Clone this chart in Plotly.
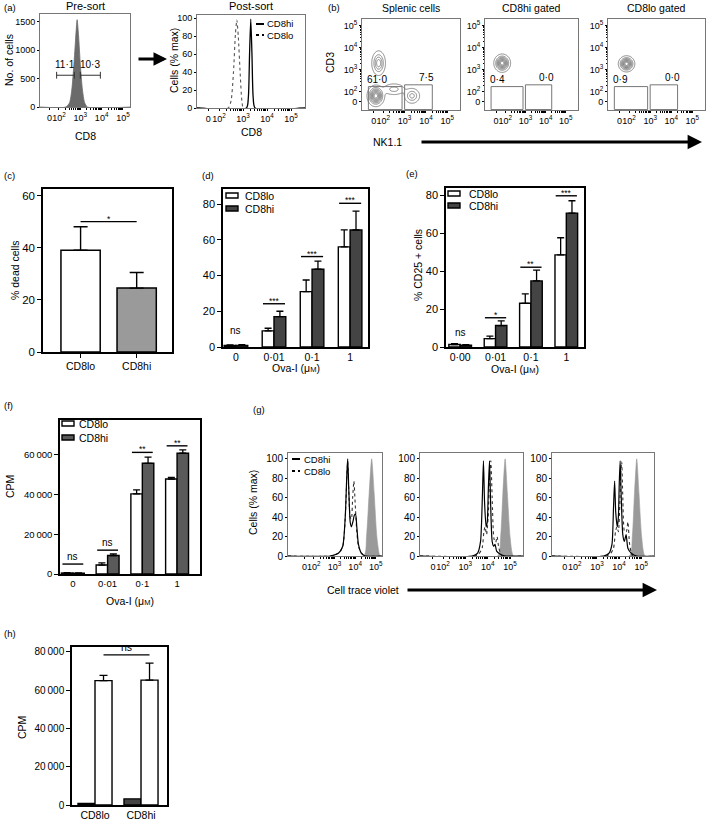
import numpy as np
import plotly.graph_objects as go

W, H = 709, 822
FONT = "Liberation Sans, Arial, Helvetica, sans-serif"

# ===================== DATA =====================
flow_tick_pos = [1.55, 2, 3, 4, 5]
flow_tick_text = ["0", "10<sup>2</sup>", "10<sup>3</sup>", "10<sup>4</sup>", "10<sup>5</sup>"]

# (a) pre-sort CD8 histogram (decade units, counts)
pre_x = [1.1, 2.33, 2.5, 2.6, 2.7, 2.78, 2.85, 2.92, 3.0, 3.1, 3.2, 3.33, 5.35]
pre_y = [0, 0, 80, 300, 750, 1200, 1540, 1250, 750, 300, 80, 0, 0]
pre_gates = [[1.89, 2.72], [3.0, 3.94]]
pre_gate_y = 560
pre_gate_labels = ["11·1", "10·3"]

# (a) post-sort
post_lo_x = [1.08, 2.38, 2.5, 2.6, 2.68, 2.74, 2.8, 2.88, 2.95, 3.02, 5.58]
post_lo_y = [0, 0, 8, 40, 82, 98, 80, 38, 8, 0, 0]
post_hi_x = [1.08, 3.14, 3.22, 3.27, 3.32, 3.37, 3.42, 3.5, 5.58]
post_hi_y = [0, 0, 12, 60, 99, 60, 12, 0, 0]

# (b) contour populations: centre x, centre y, spread x, spread y, weight
splenic_cx = [1.78, 1.65, 2.5, 3.35]
splenic_cy = [3.3, 1.82, 2.12, 1.82]
splenic_sx = [0.15, 0.17, 0.28, 0.18]
splenic_sy = [0.26, 0.2, 0.14, 0.17]
splenic_w = [0.8, 1.6, 0.35, 0.55]
cd8hi_cx, cd8hi_cy, cd8hi_sx, cd8hi_sy, cd8hi_w = [1.85], [3.3], [0.17], [0.17], [1.0]
cd8lo_cx, cd8lo_cy, cd8lo_sx, cd8lo_sy, cd8lo_w = [1.88], [3.27], [0.16], [0.15], [1.0]
b_gates = [[1.3, 2.88, 1.2, 2.24], [3.0, 4.3, 1.2, 2.32]]
b_titles = ["Splenic cells", "CD8hi gated", "CD8lo gated"]
b_gate_labels = [["61·0", "7·5"], ["0·4", "0·0"], ["0·9", "0·0"]]

# (c)
c_cats = ["CD8lo", "CD8hi"]
c_mean = [39, 24.5]
c_top = [48, 30.5]
c_sig_y = 50
c_sig = "*"

# (d)
d_cats = ["0", "0·01", "0·1", "1"]
d_lo = [0.8, 9, 31, 56]
d_lo_top = [1.2, 10.5, 37.5, 65.5]
d_hi = [0.9, 17, 43.5, 65.5]
d_hi_top = [1.3, 20, 48, 76]
d_sig = ["ns", "***", "***", "***"]
d_sig_y = [5, 24.2, 50.6, 80.4]
d_sig_line = [False, True, True, True]

# (e)
e_cats = ["0·00", "0·01", "0·1", "1"]
e_lo = [1.3, 4.4, 23, 48.5]
e_lo_top = [1.7, 5.7, 28, 57.5]
e_hi = [0.9, 11.3, 34.8, 70.5]
e_hi_top = [1.2, 13.8, 40.5, 77]
e_sig = ["ns", "*", "**", "***"]
e_sig_y = [3.5, 15.4, 42, 79.6]
e_sig_line = [False, True, True, True]

# (f)
f_cats = ["0", "0·01", "0·1", "1"]
f_lo = [500, 4500, 40300, 47800]
f_lo_top = [700, 5600, 42300, 48600]
f_hi = [400, 9300, 55700, 60800]
f_hi_top = [600, 10100, 58800, 62500]
f_sig = ["ns", "ns", "**", "**"]
f_sig_y = [5000, 12000, 61200, 64500]
f_sig_line = [True, True, True, True]

# (g) cell trace violet histograms (decade units, % max)
g1_gray_x = [0.75, 4.42, 4.55, 4.68, 4.8, 4.92, 5.05, 5.2, 5.3]
g1_gray_y = [0, 0, 20, 65, 100, 65, 20, 0, 0]
g1_hi_x = [0.75, 2.8, 3.2, 3.4, 3.52, 3.6, 3.64, 3.69, 3.76, 3.82, 3.9, 3.96, 4.02, 4.08, 4.16, 4.3, 4.5, 5.3]
g1_hi_y = [0, 0, 3, 10, 40, 85, 100, 70, 35, 30, 36, 42, 43, 30, 12, 3, 0, 0]
g1_lo_x = [0.75, 2.8, 3.2, 3.4, 3.52, 3.6, 3.64, 3.69, 3.76, 3.82, 3.88, 3.94, 4.0, 4.08, 4.16, 4.3, 4.5, 5.3]
g1_lo_y = [0, 0, 3, 10, 38, 82, 97, 68, 40, 38, 60, 77, 55, 25, 10, 3, 0, 0]

g2_gray_x = [0.97, 4.45, 4.58, 4.68, 4.78, 4.88, 5.0, 5.15, 5.58]
g2_gray_y = [0, 0, 20, 65, 100, 65, 20, 0, 0]
g2_hi_x = [0.97, 3.3, 3.55, 3.68, 3.76, 3.81, 3.86, 3.93, 3.98, 4.03, 4.08, 4.13, 4.2, 4.27, 4.33, 4.4, 4.55, 4.8, 5.58]
g2_hi_y = [0, 0, 3, 15, 60, 98, 55, 30, 35, 70, 98, 55, 15, 10, 12, 5, 2, 0, 0]
g2_lo_x = [0.97, 3.4, 3.6, 3.75, 3.83, 3.88, 3.95, 4.02, 4.08, 4.14, 4.2, 4.28, 4.36, 4.42, 4.5, 4.65, 5.58]
g2_lo_y = [0, 0, 2, 8, 25, 30, 22, 40, 80, 98, 60, 18, 14, 20, 8, 0, 0]

g3_gray_x = [0.97, 4.47, 4.6, 4.7, 4.8, 4.9, 5.02, 5.17, 5.58]
g3_gray_y = [0, 0, 20, 65, 100, 65, 20, 0, 0]
g3_hi_x = [0.97, 3.3, 3.55, 3.68, 3.75, 3.8, 3.85, 3.92, 3.97, 4.01, 4.05, 4.1, 4.17, 4.24, 4.32, 4.4, 4.55, 4.8, 5.58]
g3_hi_y = [0, 0, 3, 12, 50, 77, 45, 30, 40, 75, 98, 60, 22, 15, 22, 8, 3, 0, 0]
g3_lo_x = [0.97, 3.4, 3.6, 3.75, 3.84, 3.9, 3.97, 4.03, 4.08, 4.12, 4.17, 4.25, 4.33, 4.4, 4.48, 4.62, 5.58]
g3_lo_y = [0, 0, 2, 8, 25, 30, 25, 50, 85, 97, 60, 25, 25, 35, 12, 0, 0]

# (h)
h_cats = ["CD8lo", "CD8hi"]
h_dark = [800, 3200]
h_white = [65000, 65300]
h_white_top = [67800, 74200]
h_sig = "ns"
h_sig_y = 78500

# ===================== LAYOUT HELPERS =====================
def xd(l, r):
    return [l / W, r / W]


def yd(t, b):
    return [1 - b / H, 1 - t / H]


boxes = {
    1: (40, 130, 14, 107),    # a pre
    2: (197, 305, 15, 108),   # a post
    3: (362, 460, 19, 110),   # b1
    4: (485, 578, 19, 110),   # b2
    5: (608, 705, 19, 110),   # b3
    6: (43, 172, 189, 352),   # c
    7: (223, 368, 189, 347),  # d
    8: (446, 584, 188, 347),  # e
    9: (60, 200, 420, 574),   # f
    10: (288, 382, 453, 556), # g1
    11: (420, 523, 453, 556), # g2
    12: (552, 654, 453, 556), # g3
    13: (72, 167, 647, 805),  # h
}


def sfx(i):
    return "" if i == 1 else str(i)


minor_vals = [float(np.log10(k * 10 ** n)) for n in (2, 3, 4) for k in range(2, 10)]


def tf(size):
    return dict(size=size, family=FONT, color="black")


COMMON = dict(automargin=False, showgrid=False, zeroline=False, tickangle=0, tickmode="array")


def flow_axis(rng, fs=9):
    return dict(COMMON, range=rng, tickvals=flow_tick_pos, ticktext=flow_tick_text,
                ticks="outside", ticklen=2, tickwidth=1, tickcolor="black",
                showline=True, linecolor="#777", linewidth=1, mirror=True, tickfont=tf(fs),
                minor=dict(tickmode="array", tickvals=minor_vals, ticklen=1.5,
                           ticks="outside", tickcolor="black"))


def lin_axis(rng, vals, fs=9):
    return dict(COMMON, range=rng, tickvals=vals,
                ticks="outside", ticklen=2, tickwidth=1, tickcolor="black",
                showline=True, linecolor="#777", linewidth=1, mirror=True, tickfont=tf(fs))


def bar_axis(rng, vals, text=None, ticks="outside", fs=10):
    d = dict(COMMON, range=rng, tickvals=vals,
             ticks=ticks, ticklen=4, tickwidth=1.4, tickcolor="black",
             showline=True, linecolor="black", linewidth=1.5, mirror=True, tickfont=tf(fs))
    if text is not None:
        d["ticktext"] = text
    return d


THIN = "\u2009"
axes = {}
axes[1] = (flow_axis([1.11, 5.33]), lin_axis([0, 1640], [0, 500, 1000, 1500]))
axes[2] = (flow_axis([1.08, 5.58]), lin_axis([0, 103.5], [0, 20, 40, 60, 80, 100]))
for i in (3, 4, 5):
    axes[i] = (flow_axis([1.0, 5.6]), flow_axis([1.18, 5.3]))
axes[6] = (bar_axis([-0.67, 1.63], [0, 1], c_cats, fs=10.5), bar_axis([0, 62.5], [0, 20, 40, 60], fs=11.5))
axes[7] = (bar_axis([-0.34, 3.47], list(range(4)), d_cats, ticks="", fs=10.5),
           bar_axis([0, 88.4], [0, 20, 40, 60, 80], fs=11))
axes[8] = (bar_axis([-0.4, 3.5], list(range(4)), e_cats, ticks="", fs=10.5),
           bar_axis([0, 83.7], [0, 20, 40, 60, 80], fs=11))
axes[9] = (bar_axis([-0.37, 3.66], list(range(4)), f_cats, ticks="", fs=9.5),
           bar_axis([0, 77500], [0, 20000, 40000, 60000],
                    ["0", "20" + THIN + "000", "40" + THIN + "000", "60" + THIN + "000"], fs=9.5))
axes[10] = (flow_axis([0.75, 5.3]), lin_axis([0, 106], [0, 20, 40, 60, 80, 100], fs=10))
axes[11] = (flow_axis([0.97, 5.58]), lin_axis([0, 106], [0, 20, 40, 60, 80, 100], fs=10))
axes[12] = (flow_axis([0.97, 5.58]), lin_axis([0, 106], [0, 20, 40, 60, 80, 100], fs=10))
axes[13] = (bar_axis([-0.5, 1.565], [0, 1], h_cats, ticks="", fs=10.5),
            bar_axis([0, 82600], [0, 20000, 40000, 60000, 80000],
                     ["0", "20" + THIN + "000", "40" + THIN + "000", "60" + THIN + "000", "80" + THIN + "000"], fs=10))

layout = dict(template="none", width=W, height=H, autosize=False,
              margin=dict(l=0, r=0, t=0, b=0, pad=0, autoexpand=False),
              paper_bgcolor="white", plot_bgcolor="white", showlegend=False,
              barmode="overlay", font=dict(family=FONT, size=9, color="black"))
for i, (l, r, t, b) in boxes.items():
    xa, ya = axes[i]
    xa = dict(xa, domain=xd(l, r), anchor="y" + sfx(i))
    ya = dict(ya, domain=yd(t, b), anchor="x" + sfx(i))
    layout["xaxis" + sfx(i)] = xa
    layout["yaxis" + sfx(i)] = ya

fig = go.Figure(layout=layout)
shapes = []
annots = []


def ax(i):
    return dict(xaxis="x" + sfx(i), yaxis="y" + sfx(i))


def pann(text, x, y, size=10.5, xanchor="center", yanchor="middle", **kw):
    annots.append(dict(text=text, x=x / W, y=1 - y / H, xref="paper", yref="paper",
                       xanchor=xanchor, yanchor=yanchor,
                       showarrow=False, font=tf(size), **kw))


def dann(i, text, x, y, size=9, xanchor="center", yanchor="middle", **kw):
    annots.append(dict(text=text, x=x, y=y, xref="x" + sfx(i), yref="y" + sfx(i),
                       xanchor=xanchor, yanchor=yanchor,
                       showarrow=False, font=tf(size), **kw))


def line_trace(i, x, y, dash="solid", color="black", width=1.3, fill=None, fillcolor=None):
    fig.add_trace(go.Scatter(x=x, y=y, mode="lines",
                             line=dict(color=color, width=width, dash=dash, shape="spline", smoothing=0.6),
                             fill=fill, fillcolor=fillcolor, hoverinfo="skip", **ax(i)))


# ---------- (a) ----------
line_trace(1, pre_x, pre_y, color="#6b6b6b", width=0.8, fill="tozeroy", fillcolor="#6b6b6b")
for (g0, g1), lab in zip(pre_gates, pre_gate_labels):
    shapes.append(dict(type="line", xref="x", yref="y", x0=g0, x1=g1, y0=pre_gate_y, y1=pre_gate_y,
                       line=dict(color="#333", width=1)))
    for gx_ in (g0, g1):
        shapes.append(dict(type="line", xref="x", yref="y", x0=gx_, x1=gx_, y0=pre_gate_y - 60, y1=pre_gate_y + 60,
                           line=dict(color="#333", width=1)))
    dann(1, lab, (g0 + g1) / 2, pre_gate_y, size=10, yanchor="bottom", yshift=3)

line_trace(2, post_lo_x, post_lo_y, dash="dot", color="#555", width=1.1)
line_trace(2, post_hi_x, post_hi_y, color="black", width=1.3)

# ---------- (b) ----------
gx = np.linspace(1.0, 5.6, 231)
gy = np.linspace(1.18, 5.3, 207)
GX, GY = np.meshgrid(gx, gy)


def density(cx, cy, sx, sy, w):
    z = np.zeros_like(GX)
    for a, b, c, d, e in zip(cx, cy, sx, sy, w):
        z += e * np.exp(-((GX - a) ** 2 / (2 * c ** 2) + (GY - b) ** 2 / (2 * d ** 2)))
    return z / z.max()


pops = [(splenic_cx, splenic_cy, splenic_sx, splenic_sy, splenic_w),
        (cd8hi_cx, cd8hi_cy, cd8hi_sx, cd8hi_sy, cd8hi_w),
        (cd8lo_cx, cd8lo_cy, cd8lo_sx, cd8lo_sy, cd8lo_w)]
for k, (i, p) in enumerate(zip((3, 4, 5), pops)):
    z = density(*p)
    fig.add_trace(go.Contour(x=gx, y=gy, z=z, showscale=False, hoverinfo="skip",
                             contours=dict(coloring="lines", start=0.05, end=0.95, size=0.12),
                             colorscale=[[0, "#6a6a6a"], [1, "#6a6a6a"]],
                             line=dict(width=0.8, smoothing=1), **ax(i)))
    xr, yr = "x" + sfx(i), "y" + sfx(i)
    for (x0, x1, y0, y1) in b_gates:
        shapes.append(dict(type="rect", xref=xr, yref=yr, x0=x0, x1=x1, y0=y0, y1=y1,
                           line=dict(color="#777", width=1)))
    dann(i, b_gate_labels[k][0], b_gates[0][0], b_gates[0][3], size=10, xanchor="left", yanchor="bottom", xshift=-3)
    dann(i, b_gate_labels[k][1], b_gates[1][1], b_gates[1][3], size=10, xanchor="right", yanchor="bottom", xshift=4)


# ---------- bars ----------
def bars(i, ys, tops, offset, width, color, errw):
    n = len(ys)
    fig.add_trace(go.Bar(x=list(range(n)), y=ys, offset=offset, width=width,
                         marker=dict(color=color, line=dict(color="black", width=1.4)),
                         error_y=dict(type="data", symmetric=False,
                                      array=[t - v for t, v in zip(tops, ys)], arrayminus=[0] * n,
                                      color="black", thickness=1.3, width=errw),
                         hoverinfo="skip", **ax(i)))


def sig_marks(i, texts, ys, lines, half):
    for k, (t, yv, ln) in enumerate(zip(texts, ys, lines)):
        if ln:
            shapes.append(dict(type="line", xref="x" + sfx(i), yref="y" + sfx(i),
                               x0=k - half, x1=k + half, y0=yv, y1=yv, line=dict(color="black", width=1.4)))
        dann(i, t, k, yv, size=8.5 if "*" in t else 10, yanchor="bottom",
             yshift=-4 if "*" in t else 0)


# (c)
fig.add_trace(go.Bar(x=[0, 1], y=c_mean, width=0.7,
                     marker=dict(color=["white", "#9a9a9a"], line=dict(color="black", width=1.5)),
                     error_y=dict(type="data", symmetric=False,
                                  array=[t - v for t, v in zip(c_top, c_mean)], arrayminus=[0, 0],
                                  color="black", thickness=1.4, width=7),
                     hoverinfo="skip", **ax(6)))
shapes.append(dict(type="line", xref="x6", yref="y6", x0=0, x1=1, y0=c_sig_y, y1=c_sig_y,
                   line=dict(color="black", width=1.4)))
dann(6, c_sig, 0.5, c_sig_y, size=8.5, yanchor="bottom", yshift=-4)

# (d)
bars(7, d_lo, d_lo_top, -0.31, 0.31, "white", 3.5)
bars(7, d_hi, d_hi_top, 0.0, 0.31, "#444444", 3.5)
sig_marks(7, d_sig, d_sig_y, d_sig_line, 0.29)

# (e)
bars(8, e_lo, e_lo_top, -0.32, 0.32, "white", 3.5)
bars(8, e_hi, e_hi_top, 0.0, 0.32, "#444444", 3.5)
sig_marks(8, e_sig, e_sig_y, e_sig_line, 0.3)

# (f)
bars(9, f_lo, f_lo_top, -0.33, 0.33, "white", 3.5)
bars(9, f_hi, f_hi_top, 0.0, 0.33, "#5a5a5a", 3.5)
sig_marks(9, f_sig, f_sig_y, f_sig_line, 0.3)

# (g)
g_sets = [(10, g1_gray_x, g1_gray_y, g1_hi_x, g1_hi_y, g1_lo_x, g1_lo_y),
          (11, g2_gray_x, g2_gray_y, g2_hi_x, g2_hi_y, g2_lo_x, g2_lo_y),
          (12, g3_gray_x, g3_gray_y, g3_hi_x, g3_hi_y, g3_lo_x, g3_lo_y)]
for i, grx, gry, hx, hy, lx, ly in g_sets:
    line_trace(i, grx, gry, color="#9a9a9a", width=0.6, fill="tozeroy", fillcolor="#9a9a9a")
    line_trace(i, lx, ly, dash="dot", color="#333", width=1.1)
    line_trace(i, hx, hy, color="black", width=1.2)

# (h)
bars(13, h_dark, h_dark, -0.37, 0.37, "#444444", 0)
bars(13, h_white, h_white_top, 0.0, 0.37, "white", 4)
shapes.append(dict(type="line", xref="x13", yref="y13", x0=0.185, x1=1.185, y0=h_sig_y, y1=h_sig_y,
                   line=dict(color="black", width=1.4)))
dann(13, h_sig, 0.685, h_sig_y, size=10.5, yanchor="bottom")


# ---------- legends (drawn) ----------
def pshape_rect(x0, y0, x1, y1, fill):
    shapes.append(dict(type="rect", xref="paper", yref="paper", x0=x0 / W, x1=x1 / W,
                       y0=1 - y1 / H, y1=1 - y0 / H, fillcolor=fill, line=dict(color="black", width=1.4)))


def pshape_line(x0, x1, y, dash="solid", width=2):
    shapes.append(dict(type="line", xref="paper", yref="paper", x0=x0 / W, x1=x1 / W,
                       y0=1 - y / H, y1=1 - y / H, line=dict(color="black", width=width, dash=dash)))


for (lx, ly, gap, tx, dark, fs) in [(226, 193, 13, 243, "#444444", 10.5), (448, 191, 12, 467, "#444444", 10.5),
                                    (62, 421, 14, 77, "#5a5a5a", 10.5)]:
    pshape_rect(lx, ly, lx + 12, ly + 5, "white")
    pshape_rect(lx, ly + gap, lx + 12, ly + gap + 5, dark)
    pann("CD8lo", tx, ly + 3, size=fs, xanchor="left")
    pann("CD8hi", tx, ly + gap + 3, size=fs, xanchor="left")

pshape_line(256, 264, 24)
pann("CD8hi", 265, 24, size=9.5, xanchor="left")
pshape_line(256, 264, 35, dash="dot")
pann("CD8lo", 265, 35, size=9.5, xanchor="left")

pshape_line(292, 300, 459)
pann("CD8hi", 302, 459, size=9.5, xanchor="left")
pshape_line(292, 300, 471, dash="dot")
pann("CD8lo", 302, 471, size=9.5, xanchor="left")

# ---------- text ----------
for t, x, y in [("(a)", 2, 7), ("(b)", 326, 7), ("(c)", 2, 175), ("(d)", 200, 175),
                ("(e)", 404, 173), ("(f)", 2, 405), ("(g)", 251, 409), ("(h)", 2, 633)]:
    pann(t, x, y, size=9.5, xanchor="left")

pann("Pre-sort", 85, 6, size=11)
pann("Post-sort", 251, 6, size=11)
for t, x in zip(b_titles, (411, 531, 656)):
    pann(t, x, 8, size=10.5)

for t, x, y in [("No. of cells", 9, 60), ("Cells (% max)", 174, 61), ("CD3", 330, 63),
                ("% dead cells", 15, 270), ("% CD25 + cells", 418, 265), ("CPM", 10, 487),
                ("Cells (% max)", 253, 503), ("CPM", 22, 728)]:
    pann(t, x, y, size=10.5, textangle=-90)

ova = "Ova-I (μ<span style='font-size:7.5px'>M</span>)"
for t, x, y in [("CD8", 85, 136), ("CD8", 251, 132), ("NK1.1", 387, 142),
                (ova, 296, 368), (ova, 515, 369), (ova, 130, 601), ("Cell trace violet", 363, 590)]:
    pann(t, x, y, size=10.5)

# arrows
for hx, tx, y, wdt in [(167, 137, 59, 3), (702, 420, 142, 3.2), (657, 406, 590, 3.2)]:
    annots.append(dict(x=hx / W, y=1 - y / H, xref="paper", yref="paper", text="",
                       showarrow=True, ax=tx - hx, ay=0, arrowhead=2, arrowsize=0.9,
                       arrowwidth=wdt, arrowcolor="black"))

fig.update_layout(shapes=shapes, annotations=annots)
fig.write_html("out.html", config={"displayModeBar": False, "responsive": False},
               post_script="document.body.style.margin='0';document.body.style.padding='0';"
                           "document.documentElement.style.overflow='hidden';")
